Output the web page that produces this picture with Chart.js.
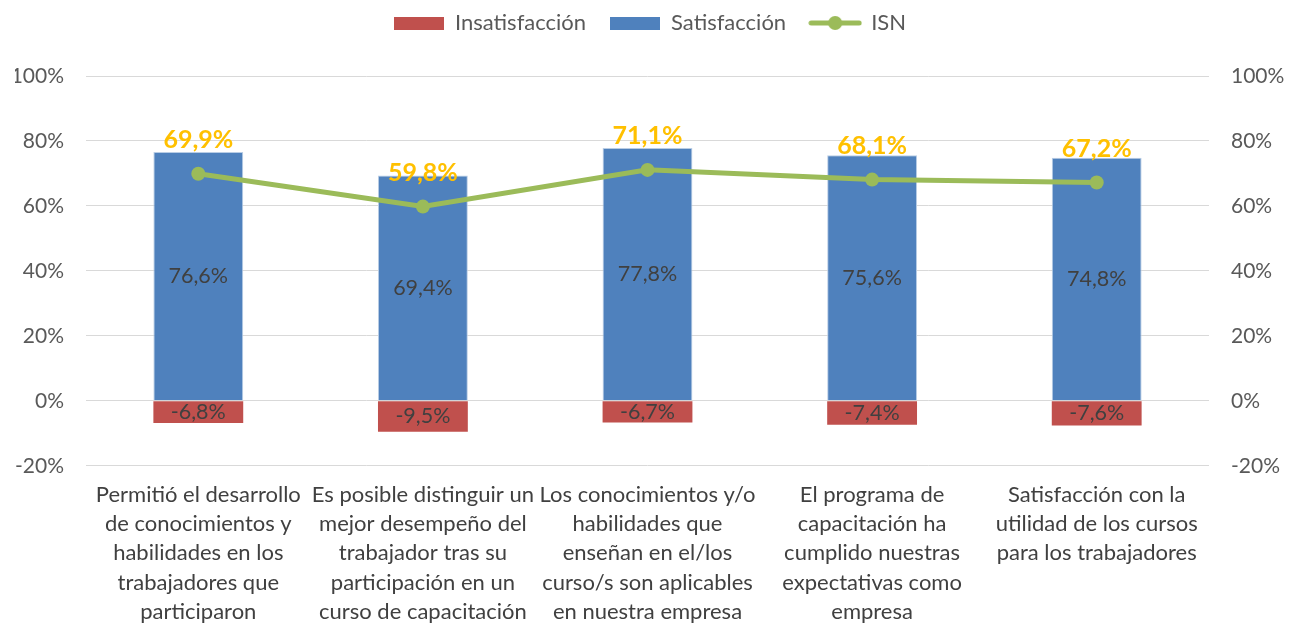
<!DOCTYPE html>
<html>
<head>
<meta charset="utf-8">
<script src="https://cdn.jsdelivr.net/npm/chart.js@4.4.0/dist/chart.umd.min.js"></script>
<style>
  html, body { margin: 0; padding: 0; background: #fff; }
  .chart-box { width: 1295px; height: 629px; }
</style>
</head>
<body>
<div class="chart-box"><canvas id="isnChart"></canvas></div>
<script>
const categories = [
  ['Permitió el desarrollo', 'de conocimientos y', 'habilidades en los', 'trabajadores que', 'participaron'],
  ['Es posible distinguir un', 'mejor desempeño del', 'trabajador tras su', 'participación en un', 'curso de capacitación'],
  ['Los conocimientos y/o', 'habilidades que', 'enseñan en el/los', 'curso/s son aplicables', 'en nuestra empresa'],
  ['El programa de', 'capacitación ha', 'cumplido nuestras', 'expectativas como', 'empresa'],
  ['Satisfacción con la', 'utilidad de los cursos', 'para los trabajadores']
];
const insatisfaccion = [-6.8, -9.5, -6.7, -7.4, -7.6];
const satisfaccion = [76.6, 69.4, 77.8, 75.6, 74.8];
const isn = [69.9, 59.8, 71.1, 68.1, 67.2];
const axisTicks = [-20, 0, 20, 40, 60, 80, 100];

const RED = '#C0504D', BLUE = '#4F81BD', GREEN = '#9BBB59', ORANGE = '#FFC000';
const FONT = 'Lato, "Open Sans", sans-serif';

const fmt = v => v.toFixed(1).replace('.', ',') + '%';

// legend icons
function boxIcon(color) {
  const c = document.createElement('canvas');
  c.width = 50; c.height = 13;
  const g = c.getContext('2d');
  g.fillStyle = color;
  g.fillRect(0, 0, 50, 13);
  return c;
}
function lineIcon(color) {
  const c = document.createElement('canvas');
  c.width = 54; c.height = 16;
  const g = c.getContext('2d');
  g.strokeStyle = color;
  g.lineWidth = 5;
  g.lineCap = 'round';
  g.beginPath(); g.moveTo(3, 8); g.lineTo(51, 8); g.stroke();
  g.fillStyle = color;
  g.beginPath(); g.arc(27, 8, 7, 0, Math.PI * 2); g.fill();
  return c;
}

// push the plot down a bit below the legend
const legendGap = {
  id: 'legendGap',
  beforeInit(chart) {
    const fit = chart.legend.fit;
    chart.legend.fit = function () {
      fit.bind(chart.legend)();
      this.height += 32;
    };
  }
};

// value labels on bars and ISN points
const valueLabels = {
  id: 'valueLabels',
  afterDatasetsDraw(chart) {
    const ctx = chart.ctx;
    ctx.save();
    ctx.textAlign = 'center';
    ctx.textBaseline = 'middle';
    chart.data.datasets.forEach((ds, i) => {
      const meta = chart.getDatasetMeta(i);
      meta.data.forEach((el, j) => {
        const v = ds.data[j];
        if (ds.type === 'line') {
          ctx.font = 'bold 25px ' + FONT;
          ctx.fillStyle = ORANGE;
          ctx.fillText(fmt(v), el.x, el.y - 34);
        } else {
          ctx.font = '21.5px ' + FONT;
          ctx.fillStyle = '#404040';
          ctx.fillText(fmt(v), el.x, (el.y + el.base) / 2);
        }
      });
    });
    ctx.restore();
  }
};

const ctx = document.getElementById('isnChart');
new Chart(ctx, {
  data: {
    labels: categories,
    datasets: [
      {
        type: 'bar',
        label: 'Insatisfacción',
        data: insatisfaccion,
        backgroundColor: RED,
        order: 2,
        pointStyle: boxIcon(RED)
      },
      {
        type: 'bar',
        label: 'Satisfacción',
        data: satisfaccion,
        backgroundColor: BLUE,
        borderColor: '#B9CDE5',
        borderWidth: 1,
        order: 2,
        pointStyle: boxIcon(BLUE)
      },
      {
        type: 'line',
        label: 'ISN',
        data: isn,
        stack: 'isn',
        borderColor: GREEN,
        backgroundColor: GREEN,
        borderWidth: 5,
        pointRadius: 7,
        pointBackgroundColor: GREEN,
        pointBorderWidth: 0,
        pointStyle: 'circle',
        order: 1
      }
    ]
  },
  options: {
    responsive: true,
    maintainAspectRatio: false,
    animation: false,
    layout: { padding: { left: 15, right: 10, top: -12, bottom: 2 } },
    datasets: { bar: { barPercentage: 0.4, categoryPercentage: 1 } },
    scales: {
      x: {
        stacked: true,
        grid: { display: false, drawTicks: false },
        border: { display: false },
        afterFit: s => {
          // labels fit inside their own category, no extra side padding
          s.paddingLeft = 0;
          s.paddingRight = 0;
          s.height -= 14;
        },
        ticks: {
          color: '#404040',
          font: { family: FONT, size: 22, lineHeight: 1.32 },
          maxRotation: 0,
          minRotation: 0,
          autoSkip: false,
          padding: 15
        }
      },
      y: {
        stacked: true,
        position: 'left',
        min: -20,
        max: 100,
        afterBuildTicks: axis => { axis.ticks = axisTicks.map(v => ({ value: v })); },
        afterFit: s => { s.width = 71; },
        grid: { color: '#D9D9D9', lineWidth: 1, drawTicks: false },
        border: { display: false },
        ticks: {
          color: '#595959',
          font: { family: FONT, size: 21 },
          padding: 22,
          callback: v => v + '%'
        }
      },
      y2: {
        position: 'right',
        min: -20,
        max: 100,
        afterBuildTicks: axis => { axis.ticks = axisTicks.map(v => ({ value: v })); },
        afterFit: s => { s.width = 76; },
        grid: { display: false, drawTicks: false },
        border: { display: false },
        ticks: {
          color: '#595959',
          font: { family: FONT, size: 21 },
          padding: 22,
          callback: v => v + '%'
        }
      }
    },
    plugins: {
      legend: {
        display: true,
        position: 'top',
        labels: {
          usePointStyle: true,
          pointStyleWidth: 50,
          color: '#595959',
          font: { family: FONT, size: 22 },
          padding: 24,
          sort: (a, b) => a.datasetIndex - b.datasetIndex,
          generateLabels: chart => chart.data.datasets.map((ds, i) => ({
            text: ds.label,
            pointStyle: ds.type === 'line' ? lineIcon(GREEN) : ds.pointStyle,
            fillStyle: ds.backgroundColor,
            strokeStyle: ds.backgroundColor,
            lineWidth: 0,
            hidden: false,
            datasetIndex: i,
            fontColor: '#595959'
          }))
        }
      },
      tooltip: { enabled: false }
    }
  },
  plugins: [legendGap, valueLabels]
});
</script>
</body>
</html>
